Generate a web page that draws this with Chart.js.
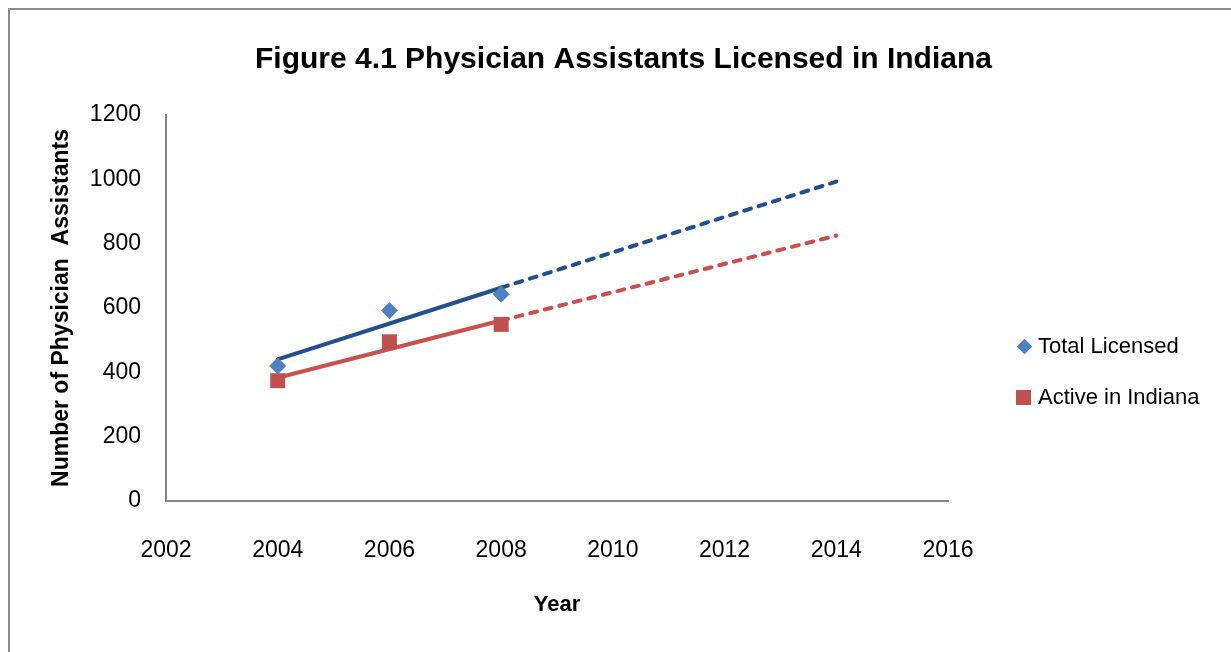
<!DOCTYPE html>
<html>
<head>
<meta charset="utf-8">
<title>Figure 4.1 Physician Assistants Licensed in Indiana</title>
<script src="https://cdn.jsdelivr.net/npm/chart.js@4.4.0/dist/chart.umd.min.js"></script>
<style>
  html, body { margin: 0; padding: 0; background: #fff; overflow: hidden; }
  #wrap { position: relative; width: 1231px; height: 652px; }
  #frame { position: absolute; left: 8px; top: 8px; width: 1300px; height: 700px; border: 2px solid #8c8c8c; }
  #chart { position: absolute; left: 0; top: 0; }
  #legend { position: absolute; left: 1016px; top: 331px; font-family: 'Liberation Sans', Arial, sans-serif; font-size: 22px; color: #000; }
  .item { display: flex; align-items: center; height: 30px; margin-bottom: 21px; white-space: nowrap; }
  .mark { width: 16px; height: 16px; margin-right: 6px; position: relative; }
  .mark span { position: absolute; }
</style>
</head>
<body>
<div id="wrap">
  <div id="frame"></div>
  <canvas id="chart" width="1231" height="652"></canvas>
  <div id="legend"></div>
</div>
<script>
// values
const years = [2004, 2006, 2008];
const totalLicensed = [420, 592, 643];
const activeInIndiana = [374, 495, 549];

// linear trend lines (solid over the data, dashed forecast to 2014)
const trendYears = [2004, 2008, 2014];
const totalTrend = [440, 663, 993];
const activeTrend = [383, 561, 825];

const xTicks = [2002, 2004, 2006, 2008, 2010, 2012, 2014, 2016];
const yTicks = [0, 200, 400, 600, 800, 1000, 1200];

const seriesNames = ["Total Licensed", "Active in Indiana"];
const markerColors = ["#4F81BD", "#C0504D"];
const trendColors = ["#22508B", "#C8504D"];

const FONT = "'Liberation Sans', Arial, sans-serif";

function points(xs, ys) {
  return xs.map((x, i) => ({ x: x, y: ys[i] }));
}

function trend(ys, color) {
  return {
    type: "line",
    data: points(trendYears, ys),
    borderColor: color,
    borderWidth: 4,
    borderCapStyle: "round",
    pointRadius: 0,
    fill: false,
    order: 2,
    segment: {
      borderDash: ctx => (ctx.p0DataIndex >= 1 ? [7, 8] : undefined)
    }
  };
}

const datasets = [
  {
    label: seriesNames[0],
    data: points(years, totalLicensed),
    pointStyle: "rectRot",
    pointRadius: 8.5,
    backgroundColor: markerColors[0],
    borderColor: markerColors[0],
    borderWidth: 0,
    order: 1
  },
  {
    label: seriesNames[1],
    data: points(years, activeInIndiana),
    pointStyle: "rect",
    pointRadius: 10.6,
    backgroundColor: markerColors[1],
    borderColor: markerColors[1],
    borderWidth: 0,
    order: 1
  },
  trend(totalTrend, trendColors[0]),
  trend(activeTrend, trendColors[1])
];

const ctx = document.getElementById("chart").getContext("2d");
new Chart(ctx, {
  type: "scatter",
  data: { datasets: datasets },
  options: {
    responsive: false,
    animation: false,
    devicePixelRatio: 1,
    layout: { padding: { left: 16, right: 0, top: 0, bottom: 0 } },
    plugins: {
      legend: { display: false },
      tooltip: { enabled: false },
      title: {
        display: true,
        text: "Figure 4.1 Physician Assistants Licensed in Indiana",
        color: "#000",
        font: { family: FONT, size: 30, weight: "bold" },
        padding: { top: 42, bottom: 37 }
      }
    },
    scales: {
      x: {
        type: "linear",
        min: xTicks[0],
        max: xTicks[xTicks.length - 1],
        afterBuildTicks: s => { s.ticks = xTicks.map(v => ({ value: v })); },
        afterFit: s => { s.height = 151; },
        grid: { display: false, drawTicks: false },
        border: { display: true, color: "#868686", width: 2 },
        ticks: {
          color: "#000",
          padding: 36,
          maxRotation: 0,
          font: { family: FONT, size: 23 },
          callback: v => String(v)
        },
        title: {
          display: true,
          text: "Year",
          color: "#000",
          font: { family: FONT, size: 22, weight: "bold" },
          padding: { top: 0, bottom: 34 }
        }
      },
      y: {
        min: yTicks[0],
        max: yTicks[yTicks.length - 1],
        afterBuildTicks: s => { s.ticks = yTicks.map(v => ({ value: v })); },
        afterFit: s => { s.width = 150; },
        grid: { display: false, drawTicks: false },
        border: { display: true, color: "#868686", width: 2 },
        ticks: {
          color: "#000",
          padding: 25,
          font: { family: FONT, size: 23 },
          callback: v => String(v)
        },
        title: {
          display: true,
          text: "Number of Physician  Assistants",
          color: "#000",
          font: { family: FONT, size: 23, weight: "bold" },
          padding: { top: 32, bottom: 0 }
        }
      },
      // empty space on the right that holds the legend
      side: {
        position: "right",
        display: true,
        afterFit: s => { s.width = 283; },
        grid: { display: false, drawTicks: false },
        border: { display: false },
        ticks: { display: false }
      }
    }
  }
});

// legend built from the series names and colours
const legend = document.getElementById("legend");
seriesNames.forEach((name, i) => {
  const item = document.createElement("div");
  item.className = "item";
  const mark = document.createElement("div");
  mark.className = "mark";
  const shape = document.createElement("span");
  if (i === 0) {
    shape.style.cssText = "left:2.5px;top:2.5px;width:11px;height:11px;transform:rotate(45deg);background:" + markerColors[0];
  } else {
    shape.style.cssText = "left:0;top:0.5px;width:15px;height:15px;background:" + markerColors[1];
  }
  mark.appendChild(shape);
  const label = document.createElement("span");
  label.textContent = name;
  item.appendChild(mark);
  item.appendChild(label);
  legend.appendChild(item);
});
</script>
</body>
</html>
